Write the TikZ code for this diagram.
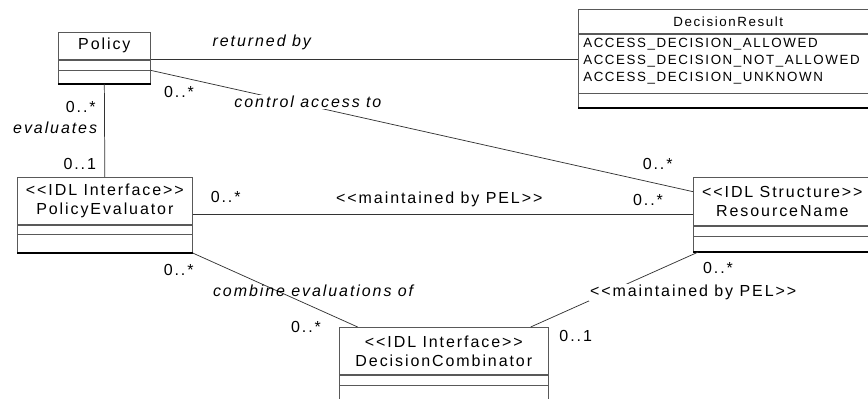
\documentclass[tikz,border=0pt]{standalone}
\usepackage{fontspec}
\setmainfont{Liberation Sans}[LetterSpace=12, Ligatures=TeXOff]
\usetikzlibrary{positioning}
\tikzset{
    classname/.style={draw=black!65, line width=0.5pt, minimum height=#1, inner sep=0pt, align=center, font=\fontsize{12}{14.25}\selectfont},
    compart/.style={draw=black!65, line width=0.5pt, minimum height=#1, inner sep=0pt},
    assoc/.style={draw=black!80, line width=0.55pt},
    mult/.style={font=\fontsize{12}{14}\selectfont},
    assocname/.style={font=\fontsize{12}{14}\selectfont\itshape}
}

\begin{document}
\begin{tikzpicture}[x=0.75pt,y=-0.75pt]
                \path [use as bounding box, clip] (0,0) rectangle (868,399);
                \node [classname=20.25pt, minimum width=69pt, anchor=north west] (policy) at (58,32) {Policy};
                \node [compart=7.5pt, minimum width=69pt, below=0pt of policy] (policy-a) {};
                \node [compart=9.75pt, minimum width=69pt, below=0pt of policy-a] (policy-o) {};
                \node [classname=35.25pt, minimum width=131.25pt, anchor=north west] (evaluator) at (17,177) {<<IDL Interface>>\\PolicyEvaluator};
                \node [compart=6.75pt, minimum width=131.25pt, below=0pt of evaluator] (evaluator-a) {};
                \node [compart=13.5pt, minimum width=131.25pt, below=0pt of evaluator-a] (evaluator-o) {};
                \node [classname=18pt, minimum width=225pt, anchor=north west, font=\fontsize{10}{12}\selectfont] (result) at (578,9) {DecisionResult};
                \node [compart=44.25pt, minimum width=225pt, below=0pt of result] (result-a) {};
                \node [below right=3.5pt and 3.75pt of result-a.north west, inner sep=0pt, align=left, font=\fontsize{10}{12.5}\selectfont] (result-v) {ACCESS\_DECISION\_ALLOWED\\ACCESS\_DECISION\_NOT\_ALLOWED\\ACCESS\_DECISION\_UNKNOWN};
                \node [compart=10.5pt, minimum width=225pt, below=0pt of result-a] (result-o) {};
                \node [classname=36pt, minimum width=133.5pt, anchor=north west] (resname) at (693,177) {<<IDL Structure>>\\ResourceName};
                \node [compart=7.5pt, minimum width=133.5pt, below=0pt of resname] (resname-a) {};
                \node [compart=11.25pt, minimum width=133.5pt, below=0pt of resname-a] (resname-o) {};
                \node [classname=35.25pt, minimum width=156.75pt, anchor=north west] (combinator) at (339,327) {<<IDL Interface>>\\DecisionCombinator};
                \node [compart=7.5pt, minimum width=156.75pt, below=0pt of combinator] (combinator-a) {};
                \node [compart=13.5pt, minimum width=156.75pt, below=0pt of combinator-a] (combinator-o) {};
                \foreach \c in {policy,evaluator,result,resname,combinator}
                    \draw [line width=1.1pt] (\c-o.south west) -- (\c-o.south east);

                \draw [assoc] (policy.south east) -- (policy.south east -| result-a.west)
                    node [assocname, pos=0.26, above=3.9pt] (returned) {returned by};
                \draw [assoc] (policy-a.south east) -- ([yshift=-11pt]resname.north west)
                    node [mult, pos=0, below right=8.2pt and 6.5pt] (m-pr) {0..*}
                    node [assocname, pos=0.29, yshift=2.7pt, fill=white, inner sep=1pt] (control) {control access to}
                    node [mult, pos=1, above left=12.7pt and 11.7pt] (m-rp) {0..*};
                \draw [assoc] (policy-o.south) -- (evaluator.north)
                    node [mult, pos=0.25, left=3pt] (m-pe) {0..*}
                    node [assocname, pos=0.47, left=2pt] (evaluates) {evaluates}
                    node [mult, pos=0.86, left=3pt] (m-ep) {0..1};
                \draw [assoc] ([yshift=-10pt]evaluator.east) -- ([yshift=-10pt]evaluator.east -| resname.west)
                    node [mult, pos=0, above right=5.2pt and 10pt] (m-er) {0..*}
                    node [mult, pos=0.493, above=1.6pt] (maintained-er) {<<maintained by PEL>>}
                    node [mult, pos=1, above left=2.9pt and 19pt] (m-re) {0..*};
                \draw [assoc] (evaluator-o.south east) -- ([xshift=14pt]combinator.north west)
                    node [mult, pos=0, below=5.2pt, xshift=-10.5pt] (m-ec) {0..*}
                    node [assocname, pos=0.73, yshift=12.4pt] (combine) {combine evaluations of}
                    node [mult, pos=1, left=24pt] (m-ce) {0..*};
                \draw [assoc] ([xshift=4pt]resname-o.south west) -- ([xshift=-13.5pt]combinator.north east)
                    node [mult, pos=0, below right=4.4pt and 0pt] (m-rc) {0..*}
                    node [mult, pos=0.54, xshift=64pt, fill=white, inner sep=1pt] (maintained-rc) {<<maintained by PEL>>}
                    node [mult, pos=1, below right=-0.8pt and 18pt] (m-cr) {0..1};
\end{tikzpicture}
\end{document}
